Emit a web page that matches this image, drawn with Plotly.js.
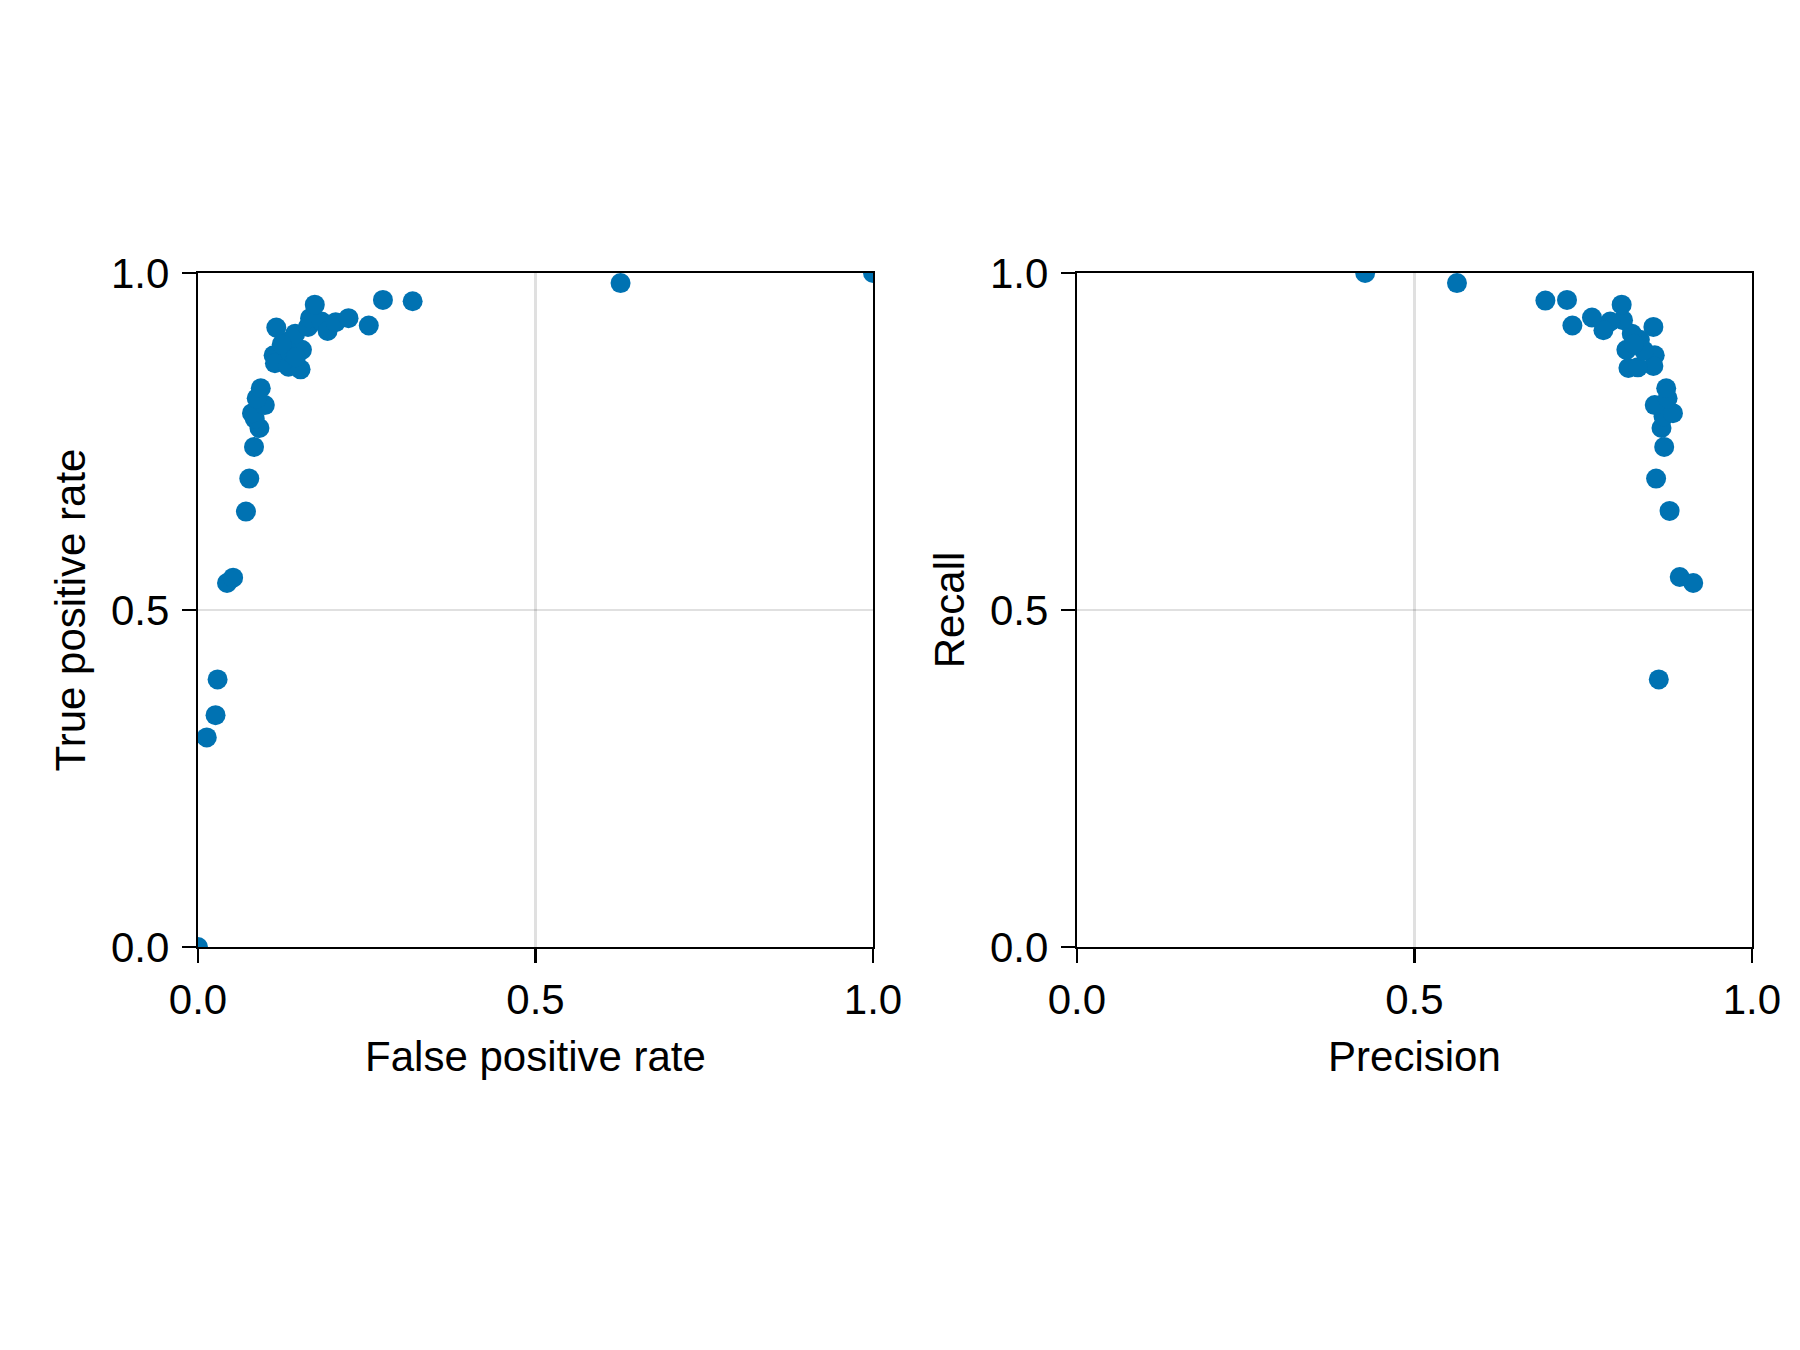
<!DOCTYPE html>
<html>
<head>
<meta charset="utf-8">
<script src="https://cdn.plot.ly/plotly-3.0.1.min.js"></script>
<style>
html, body { margin: 0; padding: 0; background: #ffffff; }
#chart { width: 1800px; height: 1350px; }
</style>
</head>
<body>
<div id="chart"></div>
<script>
// ROC curve points (false positive rate, true positive rate)
const fpr = [0.000, 0.013, 0.026, 0.029, 0.043, 0.052, 0.071, 0.076, 0.083, 0.091,
             0.084, 0.080, 0.099, 0.087, 0.093, 0.112, 0.114, 0.134, 0.152, 0.136,
             0.154, 0.131, 0.144, 0.116, 0.163, 0.166, 0.183, 0.192, 0.204, 0.223,
             0.253, 0.173, 0.274, 0.318, 0.626, 1.000, 0.124, 0.145];
const tpr = [0.000, 0.311, 0.344, 0.397, 0.540, 0.548, 0.646, 0.695, 0.742, 0.770,
             0.784, 0.792, 0.804, 0.814, 0.829, 0.878, 0.866, 0.861, 0.857, 0.883,
             0.886, 0.898, 0.910, 0.919, 0.920, 0.933, 0.928, 0.914, 0.927, 0.933,
             0.922, 0.953, 0.960, 0.958, 0.985, 1.000, 0.894, 0.875];

// Precision-recall points
const precision = [0.862, 0.893, 0.913, 0.878, 0.858, 0.870, 0.866, 0.869, 0.883, 0.856,
                   0.875, 0.873, 0.856, 0.854, 0.817, 0.831, 0.814, 0.834, 0.822, 0.854,
                   0.809, 0.790, 0.780, 0.763, 0.807, 0.734, 0.726, 0.694, 0.563, 0.427,
                   0.840, 0.825];
const recall = [0.397, 0.549, 0.540, 0.647, 0.695, 0.742, 0.770, 0.787, 0.792, 0.804,
                0.814, 0.829, 0.878, 0.862, 0.859, 0.860, 0.886, 0.901, 0.910, 0.920,
                0.930, 0.928, 0.915, 0.934, 0.953, 0.922, 0.960, 0.959, 0.985, 1.000,
                0.885, 0.895];

const tickVals = [0, 0.5, 1];
const tickText = ["0.0", "0.5", "1.0"];

const pointColor = "#0072B2";
const FONT = "Liberation Sans, Arial, Helvetica, sans-serif";
const FS = 42;

const traces = [
  {
    type: "scatter", mode: "markers", x: fpr, y: tpr,
    xaxis: "x", yaxis: "y",
    marker: { color: pointColor, size: 20, line: { width: 0 } },
    cliponaxis: true, showlegend: false, hoverinfo: "x+y"
  },
  {
    type: "scatter", mode: "markers", x: precision, y: recall,
    xaxis: "x2", yaxis: "y2",
    marker: { color: pointColor, size: 20, line: { width: 0 } },
    cliponaxis: true, showlegend: false, hoverinfo: "x+y"
  }
];

function axisBase(extra) {
  return Object.assign({
    range: [0, 1],
    tickmode: "array", tickvals: tickVals, ticktext: tickText,
    ticks: "outside", ticklen: 14, tickwidth: 2.25, tickcolor: "#000000",
    showline: true, linecolor: "#000000", linewidth: 2.25, mirror: true,
    showgrid: true, gridcolor: "rgba(0,0,0,0.12)", gridwidth: 2.25,
    zeroline: false, fixedrange: true,
    tickfont: { family: FONT, size: FS, color: "#000000" },
    automargin: false
  }, extra);
}

const layout = {
  width: 1800, height: 1350,
  margin: { l: 0, r: 0, t: 0, b: 0, pad: 0 },
  paper_bgcolor: "#ffffff", plot_bgcolor: "#ffffff",
  font: { family: FONT, size: FS, color: "#000000" },
  showlegend: false,
  xaxis: axisBase({
    domain: [0.110, 0.485], anchor: "y",
    title: { text: "False positive rate", font: { family: FONT, size: FS }, standoff: 20 }
  }),
  yaxis: axisBase({
    domain: [0.2985, 0.7978], anchor: "x", ticklabelstandoff: 4,
    title: { text: "True positive rate", font: { family: FONT, size: FS }, standoff: 12 }
  }),
  xaxis2: axisBase({
    domain: [0.5983, 0.9733], anchor: "y2",
    title: { text: "Precision", font: { family: FONT, size: FS }, standoff: 20 }
  }),
  yaxis2: axisBase({
    domain: [0.2985, 0.7978], anchor: "x2", ticklabelstandoff: 4,
    title: { text: "Recall", font: { family: FONT, size: FS }, standoff: 12 }
  })
};

Plotly.newPlot("chart", traces, layout, { staticPlot: true, displayModeBar: false });
</script>
</body>
</html>
